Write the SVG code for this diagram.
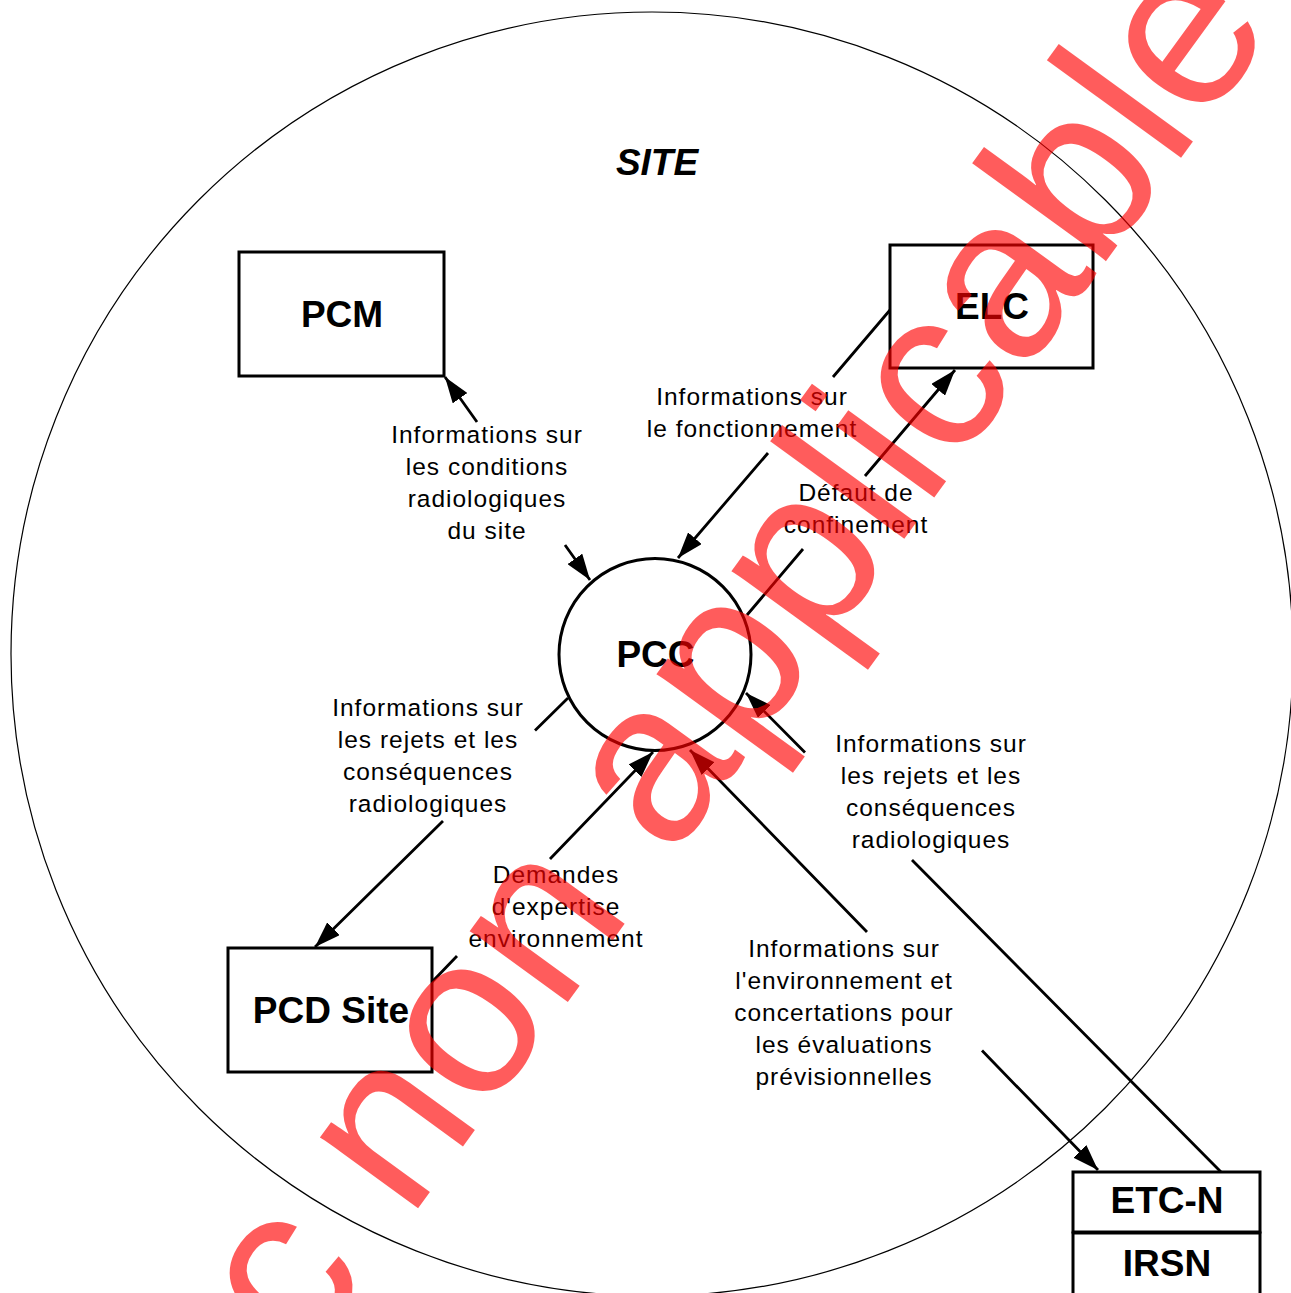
<svg xmlns="http://www.w3.org/2000/svg" width="1291" height="1293" viewBox="0 0 1291 1293">
<style>
.box{fill:#fff;stroke:#000;stroke-width:3}
.node{font-family:"Liberation Sans",Arial,sans-serif;font-weight:bold;font-size:37px;text-anchor:middle;fill:#000}
.lbl{font-family:"Liberation Sans",Arial,sans-serif;font-size:24.5px;letter-spacing:1px;text-anchor:middle;fill:#000}
.con{fill:none;stroke:#000;stroke-width:2.8}
.wm{font-family:"Liberation Sans",Arial,sans-serif;font-size:229px;fill:#ff0000;fill-opacity:0.64}
</style>
<defs>
<marker id="ah" viewBox="0 0 26 18" refX="26" refY="9" markerWidth="26" markerHeight="18" markerUnits="userSpaceOnUse" orient="auto-start-reverse">
<path d="M0,0 L26,9 L0,18 z" fill="#000"/>
</marker>
</defs>
<rect width="1291" height="1293" fill="#fff"/>
<g id="site">
<ellipse cx="652" cy="654" rx="641" ry="642" fill="none" stroke="#000" stroke-width="1.2"/>
<text x="657" y="175" class="node" font-style="italic">SITE</text>
</g>
<g id="connectors">
<path class="con" d="M445,377 L477,422 M565,545 L590,580" marker-start="url(#ah)" marker-end="url(#ah)"/>
<path class="con" d="M890,310 L833,377 M768,453 L678,558" marker-end="url(#ah)"/>
<path class="con" d="M747,615 L803,549 M865,476 L955,370" marker-end="url(#ah)"/>
<path class="con" d="M568,698 L535,730.5 M443,821 L315,947" marker-end="url(#ah)"/>
<path class="con" d="M432,982 L457,956 M550,859 L653,752" marker-end="url(#ah)"/>
<path class="con" d="M1221,1172 L912,860 M805,752.5 L746,693" marker-end="url(#ah)"/>
<path class="con" d="M690,750 L867,932 M982,1050.6 L1098,1170" marker-start="url(#ah)" marker-end="url(#ah)"/>
</g>
<g id="labels">
<text class="lbl" x="487" y="443">Informations sur</text>
<text class="lbl" x="487" y="475">les conditions</text>
<text class="lbl" x="487" y="507">radiologiques</text>
<text class="lbl" x="487" y="539">du site</text>
<text class="lbl" x="752" y="405">Informations sur</text>
<text class="lbl" x="752" y="437">le fonctionnement</text>
<text class="lbl" x="856" y="501">Défaut de</text>
<text class="lbl" x="856" y="533">confinement</text>
<text class="lbl" x="428" y="716">Informations sur</text>
<text class="lbl" x="428" y="748">les rejets et les</text>
<text class="lbl" x="428" y="780">conséquences</text>
<text class="lbl" x="428" y="812">radiologiques</text>
<text class="lbl" x="556" y="883">Demandes</text>
<text class="lbl" x="556" y="915">d'expertise</text>
<text class="lbl" x="556" y="947">environnement</text>
<text class="lbl" x="931" y="752">Informations sur</text>
<text class="lbl" x="931" y="784">les rejets et les</text>
<text class="lbl" x="931" y="816">conséquences</text>
<text class="lbl" x="931" y="848">radiologiques</text>
<text class="lbl" x="844" y="957">Informations sur</text>
<text class="lbl" x="844" y="989">l'environnement et</text>
<text class="lbl" x="844" y="1021">concertations pour</text>
<text class="lbl" x="844" y="1053">les évaluations</text>
<text class="lbl" x="844" y="1085">prévisionnelles</text>
</g>
<g id="PCM">
<rect class="box" x="239" y="252" width="205" height="124"/>
<text class="node" x="342" y="327">PCM</text>
</g>
<g id="ELC">
<rect class="box" x="890" y="245" width="203" height="123"/>
<text class="node" x="992" y="319">ELC</text>
</g>
<g id="PCC">
<circle cx="655" cy="654.5" r="96" fill="#fff" stroke="#000" stroke-width="3"/>
<text class="node" x="655.5" y="667">PCC</text>
</g>
<g id="PCD_Site">
<rect class="box" x="228" y="948" width="204" height="124"/>
<text class="node" x="331" y="1023">PCD Site</text>
</g>
<g id="ETC-N">
<rect class="box" x="1073" y="1172" width="187" height="60"/>
<text class="node" x="1167" y="1213">ETC-N</text>
</g>
<g id="IRSN">
<rect class="box" x="1073" y="1233" width="187" height="70"/>
<text class="node" x="1167" y="1276">IRSN</text>
</g>
<g id="watermark">
<text class="wm" transform="translate(304,1365) rotate(-54)">c non applicable</text>
</g>
</svg>
